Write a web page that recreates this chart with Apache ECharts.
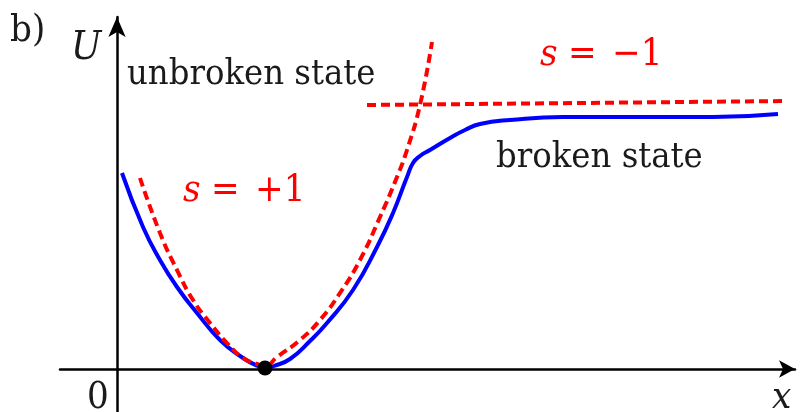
<!DOCTYPE html>
<html>
<head>
<meta charset="utf-8">
<script src="https://cdn.jsdelivr.net/npm/echarts@6/dist/echarts.min.js"></script>
<style>
  html, body { margin: 0; padding: 0; background: #fff; }
  #chart { width: 804px; height: 412px; }
</style>
</head>
<body>
<div id="chart"></div>
<script>
// potential U(x): blue = full curve, red dashed = the two branches
var brokenX = [0.05, 0.26, 0.43, 0.60, 0.80, 1.03, 1.26, 1.41, 1.49, 1.57, 1.73, 1.93, 2.10, 2.36, 2.60, 2.76, 2.90, 2.96, 3.03, 3.13, 3.33, 3.48, 3.63, 3.93, 4.46, 5.30, 5.96, 6.61];
var brokenU = [1.96, 1.42, 1.09, 0.82, 0.56, 0.29, 0.11, 0.03, 0.01, 0.03, 0.10, 0.28, 0.46, 0.79, 1.22, 1.56, 1.92, 2.06, 2.13, 2.19, 2.31, 2.39, 2.45, 2.49, 2.52, 2.52, 2.52, 2.55];

var plusX = [0.23, 0.43, 0.60, 0.76, 0.93, 1.10, 1.26, 1.40, 1.48, 1.60, 1.83, 2.03, 2.23, 2.43, 2.63, 2.80, 2.90, 3.03, 3.15];
var plusU = [1.91, 1.36, 0.99, 0.69, 0.46, 0.26, 0.11, 0.05, 0.03, 0.12, 0.29, 0.49, 0.76, 1.09, 1.52, 1.92, 2.19, 2.64, 3.27];

var minusX = [2.50, 4.63, 6.70];
var minusU = [2.64, 2.66, 2.68];

var minPoint = [1.48, 0.01];

// little stray mark at the right border
var edgeX = [6.85, 6.85];
var edgeU = [1.92, 1.41];

function pairs(xs, ys) {
    var out = [];
    for (var i = 0; i < xs.length; i++) {
        out.push([xs[i], ys[i]]);
    }
    return out;
}

var chart = echarts.init(document.getElementById('chart'));
var serif = '"DejaVu Serif Condensed", "DejaVu Serif"';
var ink = '#1a1a1a';

function label(txt, x, y, size, color, italic) {
    return {
        type: 'text',
        x: x,
        y: y,
        style: {
            text: txt,
            fill: color,
            font: (italic ? 'italic ' : 'normal ') + 'normal ' + size + 'px ' + serif,
            verticalAlign: 'middle'
        }
    };
}

// "s = ..." : italic s, then "=", then the value
function mathLabel(rest, x, y, size, color) {
    return {
        type: 'group',
        x: x,
        y: y,
        children: [
            label('s', 0, 0, size, color, true),
            label('=', 28, 0, size, color, false),
            label(rest, 72, 0, size, color, false)
        ]
    };
}

var option = {
    animation: false,
    grid: {
        left: 60,
        right: 9,
        top: 17,
        bottom: 0
    },
    xAxis: {
        type: 'value',
        min: -0.57,
        max: 6.78,
        axisLine: {
            onZero: true,
            symbol: ['none', 'arrow'],
            symbolSize: [13, 16],
            lineStyle: { color: '#000', width: 2.5 }
        },
        axisTick: { show: false },
        axisLabel: { show: false },
        splitLine: { show: false }
    },
    yAxis: {
        type: 'value',
        min: -0.43,
        max: 3.52,
        axisLine: {
            onZero: true,
            symbol: ['none', 'arrow'],
            symbolSize: [13, 20],
            lineStyle: { color: '#000', width: 2.5 }
        },
        axisTick: { show: false },
        axisLabel: { show: false },
        splitLine: { show: false }
    },
    series: [
        {
            name: 'broken',
            type: 'line',
            data: pairs(brokenX, brokenU),
            smooth: 0.5,
            showSymbol: false,
            lineStyle: { color: '#0000ff', width: 4 },
            z: 3
        },
        {
            name: 's=+1',
            type: 'line',
            data: pairs(plusX, plusU),
            smooth: 0.5,
            showSymbol: false,
            lineStyle: { color: '#ff0000', width: 4, type: [9, 5] },
            z: 4
        },
        {
            name: 's=-1',
            type: 'line',
            data: pairs(minusX, minusU),
            showSymbol: false,
            lineStyle: { color: '#ff0000', width: 4, type: [9, 5] },
            z: 4
        },
        {
            name: 'edge',
            type: 'line',
            data: pairs(edgeX, edgeU),
            clip: false,
            showSymbol: false,
            lineStyle: { color: '#3d8c8c', width: 2 }
        },
        {
            name: 'minimum',
            type: 'scatter',
            data: [minPoint],
            symbolSize: 15,
            itemStyle: { color: '#000', opacity: 1 },
            z: 5
        }
    ],
    graphic: [
        label('b)', 10, 31, 38, ink, false),
        label('U', 71, 49, 40, ink, true),
        label('unbroken state', 127, 75, 36, ink, false),
        label('broken state', 496, 158, 36, ink, false),
        mathLabel('\u22121', 540, 55, 38, '#ff0000'),
        mathLabel('+1', 183, 191, 38, '#ff0000'),
        label('0', 87, 398, 38, ink, false),
        label('x', 772, 398, 38, ink, true)
    ]
};

chart.setOption(option);

window.addEventListener('resize', function () {
    chart.resize();
});
</script>
</body>
</html>
